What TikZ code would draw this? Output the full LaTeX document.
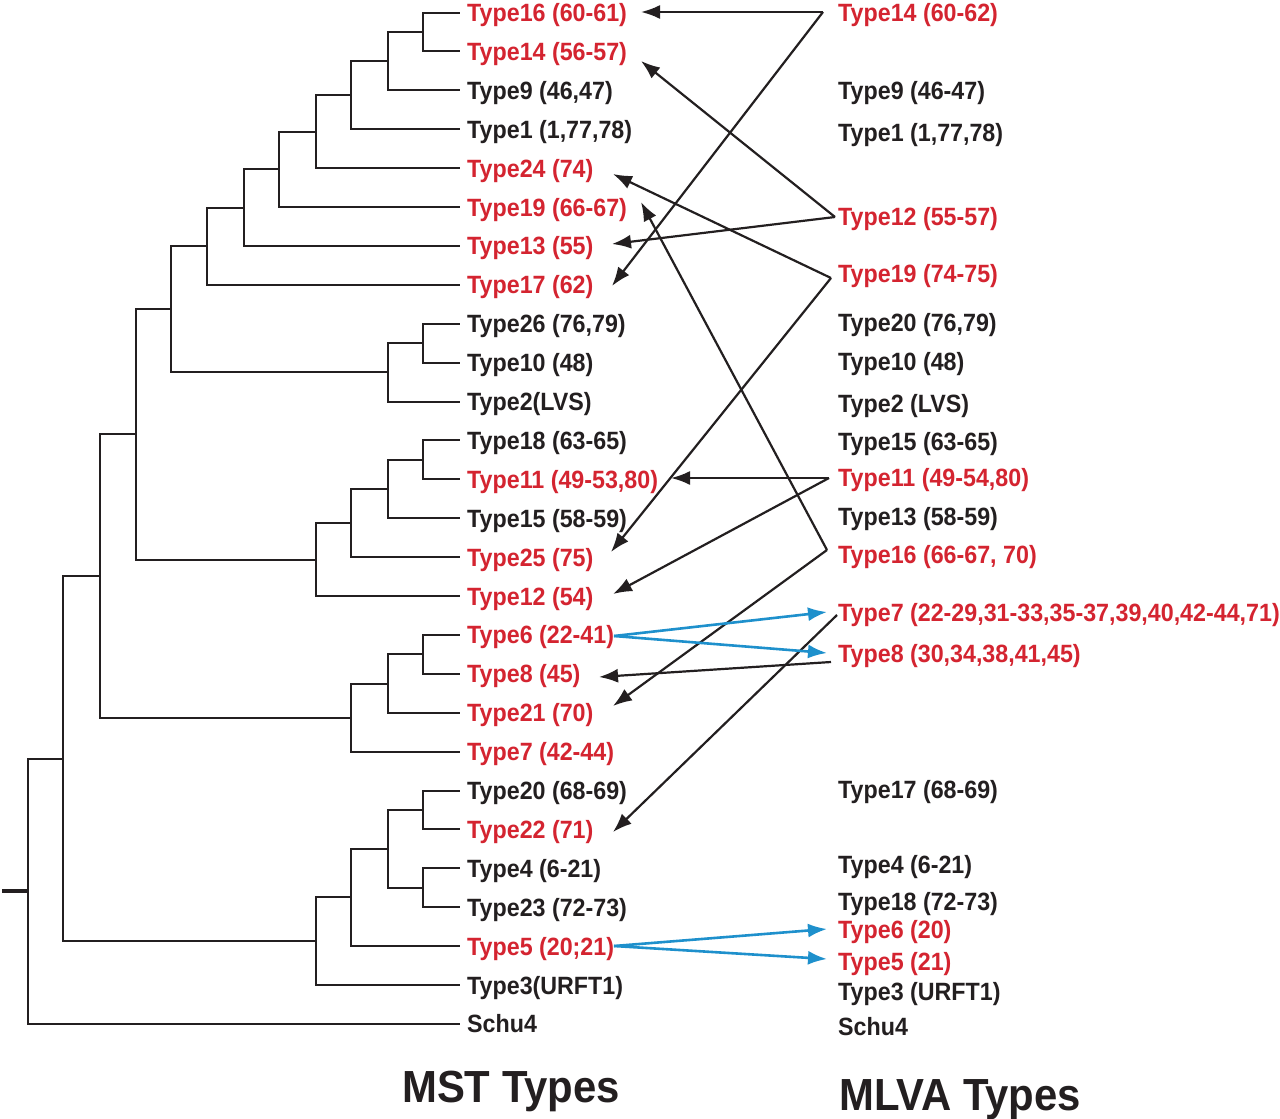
\documentclass[tikz,border=0pt]{standalone}
\usepackage{fontspec}
\setmainfont{Liberation Sans}[FakeStretch=0.93]
\usetikzlibrary{arrows.meta}
\definecolor{tred}{RGB}{212,36,48}
\definecolor{tblue}{RGB}{30,144,204}
\definecolor{tblack}{RGB}{35,31,32}
\begin{document}
\begin{tikzpicture}[x=1pt,y=-1pt,
  tree/.style={line width=2pt,tblack,line cap=rect},
  lbl/.style={anchor=base west,inner sep=0pt,font=\fontsize{25}{29}\selectfont\bfseries,text=tblack},
  rl/.style={lbl,text=tred},
  ttl/.style={anchor=base west,inner sep=0pt,font=\fontsize{45}{50}\selectfont\bfseries,text=tblack},
  blk/.style={line width=2.2pt,tblack,-{Latex[length=19pt,width=14pt]}},
  blu/.style={line width=2.6pt,tblue,-{Latex[length=19pt,width=14pt]}}]
\useasboundingbox[fill=white] (0,0) rectangle (1280,1119);
% ---------------- tree ----------------
\draw[tree] (459,12.5) -- (423,12.5) -- (423,51.4) -- (459,51.4);
\draw[tree] (423,31.95) -- (388,31.95) -- (388,90.3) -- (459,90.3);
\draw[tree] (388,61.125) -- (351,61.125) -- (351,129.2) -- (459,129.2);
\draw[tree] (351,95.16) -- (315.5,95.16) -- (315.5,168.1) -- (459,168.1);
\draw[tree] (315.5,131.63) -- (279,131.63) -- (279,207) -- (459,207);
\draw[tree] (279,169.32) -- (244,169.32) -- (244,245.9) -- (459,245.9);
\draw[tree] (244,207.61) -- (207,207.61) -- (207,284.8) -- (459,284.8);
\draw[tree] (459,323.7) -- (423,323.7) -- (423,362.6) -- (459,362.6);
\draw[tree] (423,343.15) -- (388,343.15) -- (388,401.5) -- (459,401.5);
\draw[tree] (207,246.2) -- (171,246.2) -- (171,372.33) -- (388,372.33);
\draw[tree] (459,440.4) -- (423,440.4) -- (423,479.3) -- (459,479.3);
\draw[tree] (423,459.85) -- (388,459.85) -- (388,518.2) -- (459,518.2);
\draw[tree] (388,489.03) -- (351,489.03) -- (351,557.1) -- (459,557.1);
\draw[tree] (351,523.06) -- (315.5,523.06) -- (315.5,596) -- (459,596);
\draw[tree] (171,309.27) -- (136,309.27) -- (136,559.53) -- (315.5,559.53);
\draw[tree] (459,634.9) -- (423,634.9) -- (423,673.8) -- (459,673.8);
\draw[tree] (423,654.35) -- (388,654.35) -- (388,712.7) -- (459,712.7);
\draw[tree] (388,683.53) -- (351,683.53) -- (351,751.6) -- (459,751.6);
\draw[tree] (136,434.4) -- (100,434.4) -- (100,717.56) -- (351,717.56);
\draw[tree] (459,790.5) -- (423,790.5) -- (423,829.4) -- (459,829.4);
\draw[tree] (459,868.3) -- (423,868.3) -- (423,907.2) -- (459,907.2);
\draw[tree] (423,809.95) -- (388,809.95) -- (388,887.75) -- (423,887.75);
\draw[tree] (388,848.85) -- (351,848.85) -- (351,946.1) -- (459,946.1);
\draw[tree] (351,897.48) -- (315.5,897.48) -- (315.5,985) -- (459,985);
\draw[tree] (100,575.98) -- (63,575.98) -- (63,941.24) -- (315.5,941.24);
\draw[tree] (63,758.61) -- (28,758.61) -- (28,1023.9) -- (459,1023.9);
\draw[tree,line width=4pt,line cap=butt] (2,891.26) -- (28,891.26);
% ---------------- MST labels ----------------
\node[rl]  (m16) at (467,21.5)   {Type16 (60-61)};
\node[rl]  (m14) at (467,60.4)   {Type14 (56-57)};
\node[lbl] (m9)  at (467,99.3)   {Type9 (46,47)};
\node[lbl] (m1)  at (467,138.2)  {Type1 (1,77,78)};
\node[rl]  (m24) at (467,177.1)  {Type24 (74)};
\node[rl]  (m19) at (467,216)    {Type19 (66-67)};
\node[rl]  (m13) at (467,254.9)  {Type13 (55)};
\node[rl]  (m17) at (467,293.8)  {Type17 (62)};
\node[lbl] (m26) at (467,332.7)  {Type26 (76,79)};
\node[lbl] (m10) at (467,371.6)  {Type10 (48)};
\node[lbl] (m2)  at (467,410.5)  {Type2(LVS)};
\node[lbl] (m18) at (467,449.4)  {Type18 (63-65)};
\node[rl]  (m11) at (467,488.3)  {Type11 (49-53,80)};
\node[lbl] (m15) at (467,527.2)  {Type15 (58-59)};
\node[rl]  (m25) at (467,566.1)  {Type25 (75)};
\node[rl]  (m12) at (467,605)    {Type12 (54)};
\node[rl]  (m6)  at (467,643.9)  {Type6 (22-41)};
\node[rl]  (m8)  at (467,682.8)  {Type8 (45)};
\node[rl]  (m21) at (467,721.7)  {Type21 (70)};
\node[rl]  (m7)  at (467,760.6)  {Type7 (42-44)};
\node[lbl] (m20) at (467,799.5)  {Type20 (68-69)};
\node[rl]  (m22) at (467,838.4)  {Type22 (71)};
\node[lbl] (m4)  at (467,877.3)  {Type4 (6-21)};
\node[lbl] (m23) at (467,916.2)  {Type23 (72-73)};
\node[rl]  (m5)  at (467,955.1)  {Type5 (20;21)};
\node[lbl] (m3)  at (467,994)    {Type3(URFT1)};
\node[lbl] (ms)  at (467,1032.9) {Schu4};
% ---------------- MLVA labels ----------------
\node[rl]  (v14) at (838,21)   {Type14 (60-62)};
\node[lbl] (v9)  at (838,99)   {Type9 (46-47)};
\node[lbl] (v1)  at (838,141)  {Type1 (1,77,78)};
\node[rl]  (v12) at (838,225)  {Type12 (55-57)};
\node[rl]  (v19) at (838,282)  {Type19 (74-75)};
\node[lbl] (v20) at (838,331)  {Type20 (76,79)};
\node[lbl] (v10) at (838,370)  {Type10 (48)};
\node[lbl] (v2)  at (838,412)  {Type2 (LVS)};
\node[lbl] (v15) at (838,450)  {Type15 (63-65)};
\node[rl]  (v11) at (838,486)  {Type11 (49-54,80)};
\node[lbl] (v13) at (838,525)  {Type13 (58-59)};
\node[rl]  (v16) at (838,563)  {Type16 (66-67, 70)};
\node[rl]  (v7)  at (838,621)  {Type7 (22-29,31-33,35-37,39,40,42-44,71)};
\node[rl]  (v8)  at (838,662)  {Type8 (30,34,38,41,45)};
\node[lbl] (v17) at (838,798)  {Type17 (68-69)};
\node[lbl] (v4)  at (838,873)  {Type4 (6-21)};
\node[lbl] (v18) at (838,910)  {Type18 (72-73)};
\node[rl]  (v6)  at (838,938)  {Type6 (20)};
\node[rl]  (v5)  at (838,970)  {Type5 (21)};
\node[lbl] (v3)  at (838,1000) {Type3 (URFT1)};
\node[lbl] (vs)  at (838,1035) {Schu4};
% ---------------- titles ----------------
\node[ttl] (tmst)  at (402,1102) {MST Types};
\node[ttl] (tmlva) at (839,1110) {MLVA Types};
% ---------------- arrow ends ----------------
\coordinate (s14) at (823,12);
\coordinate (s12) at (835,217);
\coordinate (s19) at (831,278);
\coordinate (s11) at (829,478);
\coordinate (s16) at (827,550);
\coordinate (s7)  at (837,615);
\coordinate (s8)  at (831,662);
\coordinate (e16) at (641,12);
\coordinate (e17) at (612,286);
\coordinate (e14) at (641,61);
\coordinate (e13) at (612,244);
\coordinate (e24) at (613,174);
\coordinate (e25) at (611,552);
\coordinate (e11) at (671,478);
\coordinate (e12) at (613,594);
\coordinate (e19) at (641,202);
\coordinate (e21) at (613,706);
\coordinate (e22) at (613,832);
\coordinate (e8)  at (599,677);
\coordinate (b6)  at (614,636);
\coordinate (b5)  at (614,946);
\coordinate (f7)  at (827,612);
\coordinate (f8)  at (827,653);
\coordinate (f6)  at (827,929);
\coordinate (f5)  at (827,959);
% ---------------- black arrows ----------------
\draw[blk] (s14) -- (e16);
\draw[blk] (s14) -- (e17);
\draw[blk] (s12) -- (e14);
\draw[blk] (s12) -- (e13);
\draw[blk] (s19) -- (e24);
\draw[blk] (s19) -- (e25);
\draw[blk] (s11) -- (e11);
\draw[blk] (s11) -- (e12);
\draw[blk] (s16) -- (e19);
\draw[blk] (s16) -- (e21);
\draw[blk] (s7)  -- (e22);
\draw[blk] (s8)  -- (e8);
% ---------------- blue arrows ----------------
\draw[blu] (b6) -- (f7);
\draw[blu] (b6) -- (f8);
\draw[blu] (b5) -- (f6);
\draw[blu] (b5) -- (f5);
\end{tikzpicture}
\end{document}
